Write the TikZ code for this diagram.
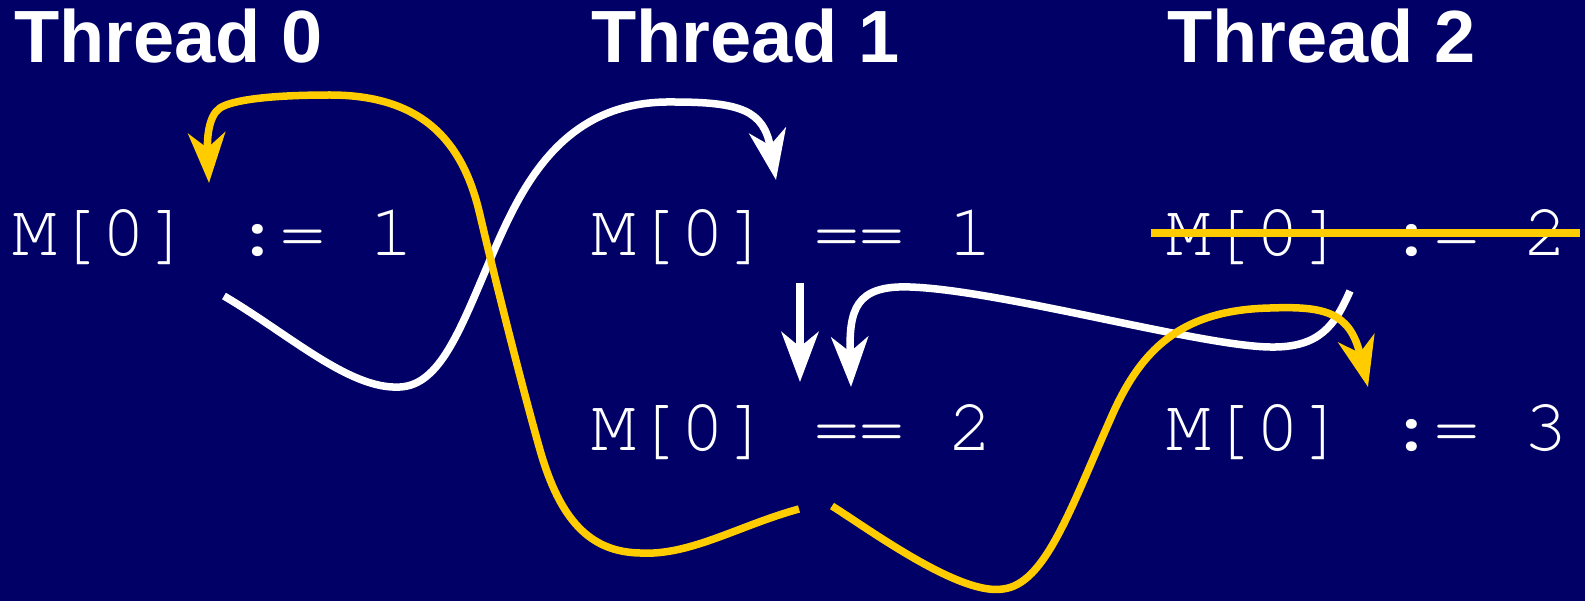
\documentclass[tikz,border=0pt]{standalone}
\usepackage{fontspec}
\usetikzlibrary{arrows.meta}
\newfontfamily\headfont{Liberation Sans}
\newfontfamily\codefont{texgyrecursor-regular.otf}
\definecolor{bg}{HTML}{000066}
\definecolor{gold}{HTML}{FFCC00}
\begin{document}
\begin{tikzpicture}[x=1pt,y=-1pt,
  head/.style={anchor=base west, inner sep=0pt, text=white, font=\headfont\bfseries\fontsize{74}{74}\selectfont},
  code/.style={anchor=base west, inner sep=0pt, text=white, font=\codefont\fontsize{74.5}{74.5}\selectfont},
  wline/.style={white, line width=7.5pt},
  yline/.style={gold, line width=7.5pt},
  tipa/.style={-{Stealth[length=50pt,width=37pt,inset=15pt]}},
  strike/.style={gold, line width=8pt},
]
\useasboundingbox (0,0) rectangle (1585,601);
\fill[bg] (0,0) rectangle (1585,601);

% headers
\node[head] (h0) at (14,63) {Thread 0};
\node[head] (h1) at (591,63) {Thread 1};
\node[head] (h2) at (1167,63) {Thread 2};

% statements
\node[code] (c00) at (12,256) {M[0] := 1};
\node[code] (c10) at (591,256) {M[0] == 1};
\node[code] (c20) at (1166,256) {M[0] := 2};
\node[code] (c11) at (591,450) {M[0] == 2};
\node[code] (c21) at (1166,450) {M[0] := 3};

% free ends of connectors
\coordinate (w1s) at (224,296);
\coordinate (w1e) at (776,180);
\coordinate (w2s) at (1350,291);
\coordinate (w2e) at (851,387);
\coordinate (w3s) at (800,283);
\coordinate (w3e) at (800,382);
\coordinate (y1s) at (799,509);
\coordinate (y1e) at (209,183);
\coordinate (y2s) at (832,506);
\coordinate (y2e) at (1368,387);
\coordinate (k1) at (1151,233);
\coordinate (k2) at (1580,233);

% white connectors
\draw[wline,tipa] (w1s) .. controls (290,335) and (350,390) .. (400,387)
  .. controls (440,385) and (460,330) .. (490,260)
  .. controls (520,190) and (560,100) .. (673,102)
  .. controls (740,102) and (764,110) .. (w1e);
\draw[wline,tipa] (w2s) .. controls (1335,325) and (1320,348) .. (1270,347)
  .. controls (1200,346) and (1000,290) .. (910,287)
  .. controls (855,285) and (849,310) .. (w2e);
\draw[wline,tipa] (w3s) -- (w3e);

% yellow connectors
\draw[yline,tipa] (y1s) .. controls (740,525) and (690,556) .. (640,553)
  .. controls (590,552) and (560,520) .. (540,450)
  .. controls (525,397) and (500,300) .. (480,215)
  .. controls (465,150) and (430,95) .. (330,95)
  .. controls (270,95) and (232,100) .. (220,108)
  .. controls (208,116) and (207,140) .. (y1e);
\draw[yline,tipa] (y2s) .. controls (870,530) and (960,596) .. (1003,589)
  .. controls (1045,584) and (1070,510) .. (1110,420)
  .. controls (1140,350) and (1180,310) .. (1270,308)
  .. controls (1325,306) and (1350,312) .. (y2e);

% strike-through
\draw[strike] (k1) -- (k2);
\end{tikzpicture}
\end{document}
